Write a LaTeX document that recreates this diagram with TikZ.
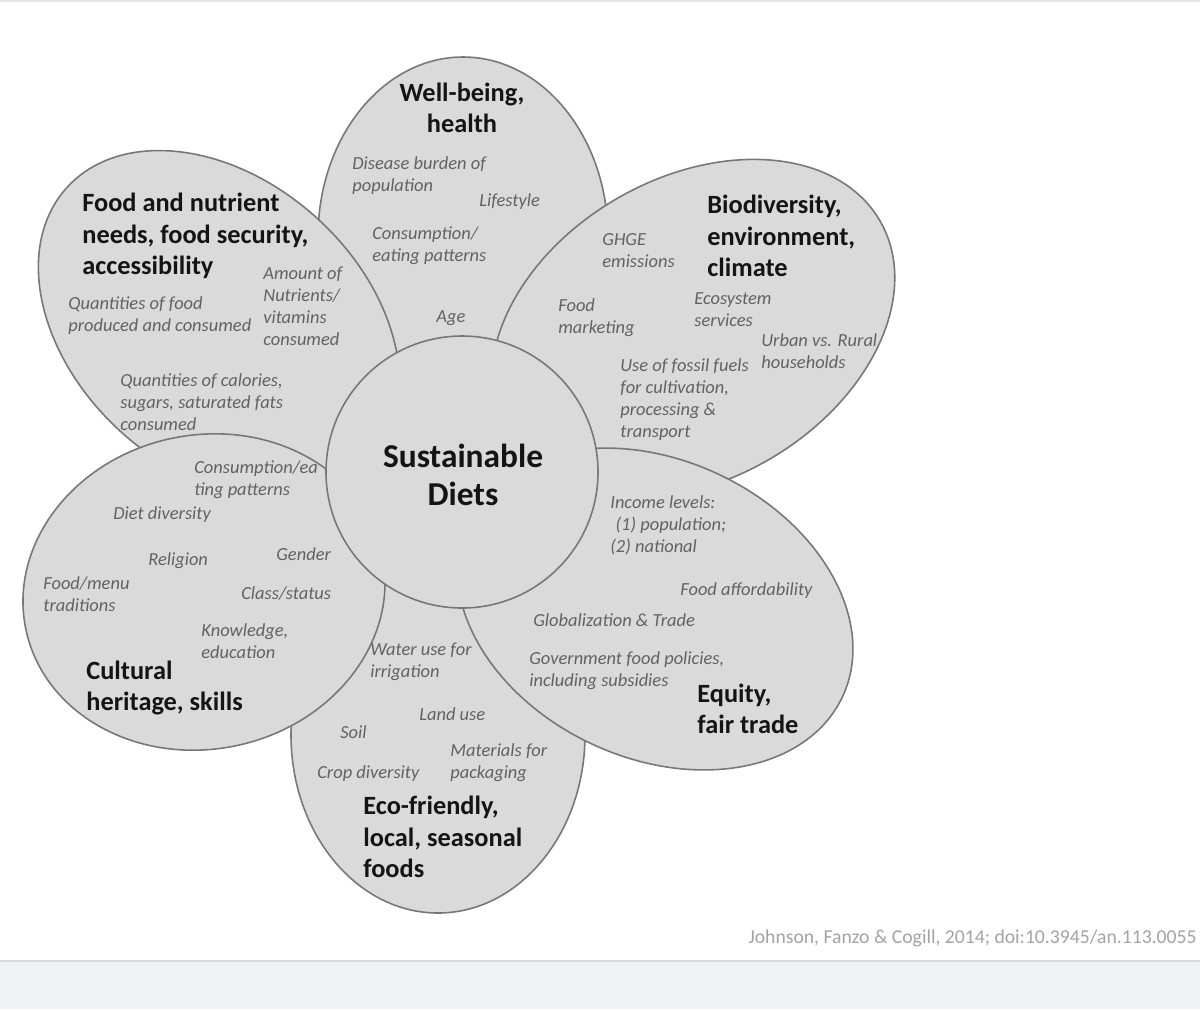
\documentclass[tikz,border=0pt]{standalone}
\usepackage{fontspec}
\setmainfont{Carlito}
\usepackage{tikz}
\definecolor{petalfill}{HTML}{DADADA}
\definecolor{petaledge}{HTML}{777777}
\definecolor{factorgrey}{HTML}{626262}
\definecolor{creditgrey}{HTML}{A3A3A3}
\definecolor{barfill}{HTML}{F1F2F4}
\tikzset{
  petal/.style={fill=petalfill, draw=petaledge, line width=0.9pt},
  heading/.style={anchor=west, align=left, inner sep=0pt, text=black!92,
    font=\fontsize{15}{18}\selectfont\bfseries},
  factor/.style={anchor=west, align=left, inner sep=0pt, text=factorgrey,
    font=\fontsize{10.5}{12.5}\selectfont\itshape},
}

\begin{document}
\begin{tikzpicture}[x=0.02cm, y=-0.02cm]
        % frame
        \useasboundingbox (0,0) rectangle (1200,1009);
        \fill[white] (0,0) rectangle (1200,1009);
        \fill[black!10] (0,0) rectangle (1200,2);
        \fill[barfill] (0,961) rectangle (1200,1009);
        \draw[black!15, line width=1pt] (0,961) -- (1200,961);
        % petals
        \draw[petal] (463,237) ellipse [x radius=145, y radius=180];
        \draw[petal] (438,735) ellipse [x radius=147, y radius=178];
        \draw[petal, rotate around={-42:(219,325)}] (219,325) ellipse [x radius=205, y radius=145];
        \draw[petal, rotate around={30:(693,329)}] (693,329) ellipse [x radius=216, y radius=151];
        \draw[petal, rotate around={12:(204,592)}] (204,592) ellipse [x radius=182, y radius=157];
        \draw[petal, rotate around={-25:(655,609)}] (655,609) ellipse [x radius=207, y radius=149];
        % centre
        \draw[petal] (462,472) circle [radius=136];
        \node[inner sep=0pt, align=center, text=black!92,
          font=\fontsize{19}{21.5}\selectfont\bfseries] (sustdiets) at (463,475) {Sustainable\\Diets};
        % headings
        \node[heading, anchor=center, align=center] (wellbeing) at (462,108) {Well-being,\\health};
        \node[heading] (foodneeds) at (82,236) {Food and nutrient\\needs, food security,\\accessibility};
        \node[heading] (biodiv) at (707,236) {Biodiversity,\\environment,\\climate};
        \node[heading] (equity) at (697,709) {Equity,\\fair trade};
        \node[heading] (cultural) at (86,688) {Cultural\\heritage, skills};
        \node[heading] (ecofriendly) at (363,837) {Eco-friendly,\\local, seasonal\\foods};
        % well-being factors
        \node[factor] (disease) at (352,176) {Disease burden of\\population};
        \node[factor] (lifestyle) at (479,202) {Lifestyle};
        \node[factor] (eating) at (372,246) {Consumption/\\eating patterns};
        \node[factor] (age) at (436,318) {Age};
        % food factors
        \node[factor] (nutrients) at (263,306) {Amount of\\Nutrients/\\vitamins\\consumed};
        \node[factor] (quantfood) at (68,316) {Quantities of food\\produced and consumed};
        \node[factor] (calories) at (120,402) {Quantities of calories,\\sugars, saturated fats\\consumed};
        % biodiversity factors
        \node[factor] (ghge) at (602,251) {GHGE\\emissions};
        \node[factor] (marketing) at (558,318) {Food\\marketing};
        \node[factor] (ecosystem) at (694,310) {Ecosystem\\services};
        \node[factor] (urban) at (761,351) {Urban vs. Rural\\households};
        \node[factor] (fossil) at (620,400) {Use of fossil fuels\\for cultivation,\\processing \&\\transport};
        % equity factors
        \node[factor] (income) at (610,525) {Income levels:\\\hspace*{3pt}(1) population;\\(2) national};
        \node[factor] (afford) at (680,591) {Food affordability};
        \node[factor] (global) at (533,620) {Globalization \& Trade};
        \node[factor] (policies) at (529,671) {Government food policies,\\including subsidies};
        % cultural factors
        \node[factor] (eatingb) at (194,480) {Consumption/ea\\ting patterns};
        \node[factor] (dietdiv) at (113,515) {Diet diversity};
        \node[factor] (religion) at (148,561) {Religion};
        \node[factor] (gender) at (276,554) {Gender};
        \node[factor] (menu) at (43,594) {Food/menu\\traditions};
        \node[factor] (class) at (241,593) {Class/status};
        \node[factor] (knowledge) at (201,641) {Knowledge,\\education};
        % eco factors
        \node[factor] (water) at (370,662) {Water use for\\irrigation};
        \node[factor] (land) at (419,714) {Land use};
        \node[factor] (soil) at (340,732) {Soil};
        \node[factor] (materials) at (450,763) {Materials for\\packaging};
        \node[factor] (crop) at (317,774) {Crop diversity};
        % source
        \node[anchor=east, inner sep=0pt, text=creditgrey, font=\fontsize{11.2}{13}\selectfont]
          (credit) at (1197,938) {Johnson, Fanzo \& Cogill, 2014; doi:10.3945/an.113.0055};
\end{tikzpicture}
\end{document}
